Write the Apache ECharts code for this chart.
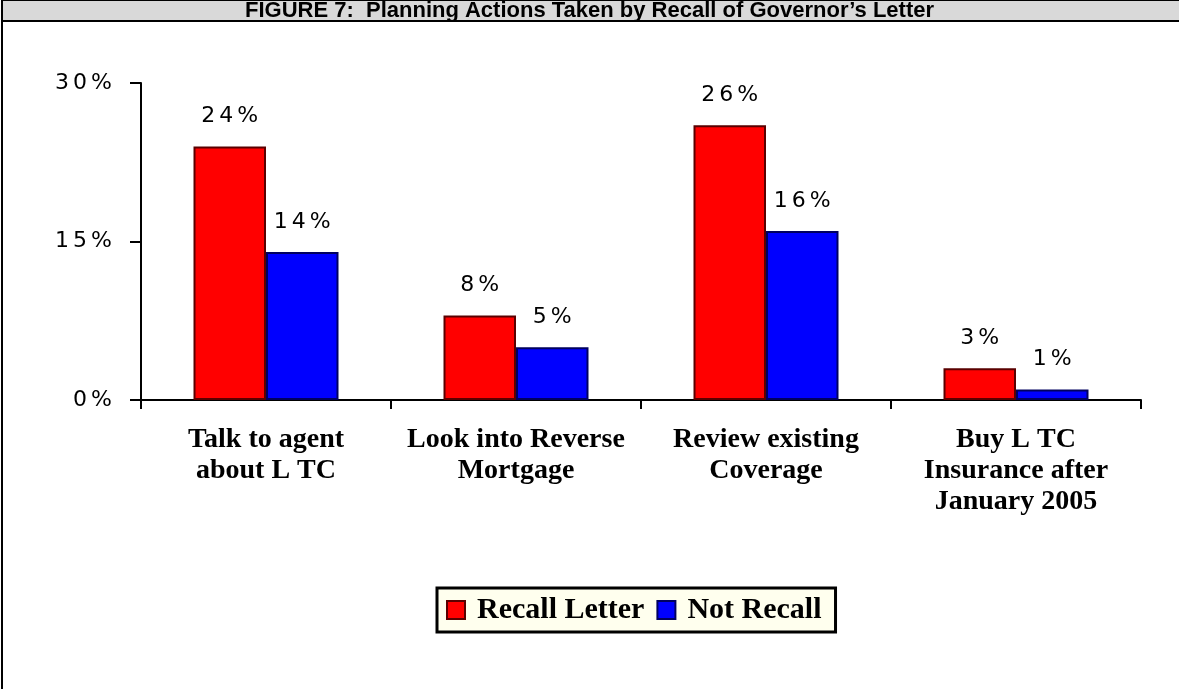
<!DOCTYPE html>
<html>
<head>
<meta charset="utf-8">
<script src="https://cdn.jsdelivr.net/npm/echarts@6/dist/echarts.min.js"></script>
<style>
  html, body { margin: 0; padding: 0; background: #ffffff; }
  #chart { width: 1179px; height: 689px; }
</style>
</head>
<body>
<div id="chart"></div>
<script>
// Planning actions by whether respondents recalled the Governor's letter
const categories = [
  'Talk to agent\nabout L TC',
  'Look into Reverse\nMortgage',
  'Review existing\nCoverage',
  'Buy L TC\nInsurance after\nJanuary 2005'
];
const recallLetter = [24, 8, 26, 3];
const notRecall = [14, 5, 16, 1];
const seriesNames = ['Recall Letter', 'Not Recall'];
const yTicks = [0, 15, 30];

// Percent text drawn with a little air between the glyphs
function spaced(text) {
  return String(text).split('').map(function (c) { return '{s|' + c + '}'; }).join('');
}
const spacedRich = {
  s: {
    fontFamily: 'DejaVu Sans, sans-serif',
    fontSize: 22,
    color: '#000',
    padding: [0, 2, 0, 2]
  }
};

const chart = echarts.init(document.getElementById('chart'));

const valueLabel = {
  show: true,
  position: 'top',
  distance: 19,
  formatter: function (p) { return spaced(p.value + '%'); },
  rich: spacedRich
};

chart.setOption({
  animation: false,
  backgroundColor: '#ffffff',
  title: {
    text: 'FIGURE 7:  Planning Actions Taken by Recall of Governor\u2019s Letter',
    left: 'center',
    top: 0,
    padding: [0, 0, 0, 0],
    textStyle: {
      fontFamily: 'Liberation Sans, Arial, sans-serif',
      fontWeight: 'bold',
      fontSize: 22,
      lineHeight: 22,
      color: '#000'
    }
  },
  graphic: [
    {
      type: 'rect',
      z: -1,
      shape: { x: 2, y: 0, width: 1180, height: 21 },
      style: { fill: '#d9d9d9', stroke: '#000', lineWidth: 2 }
    },
    {
      type: 'line',
      shape: { x1: 2, y1: 21, x2: 2, y2: 689 },
      style: { stroke: '#000', lineWidth: 2 }
    }
  ],
  legend: {
    data: seriesNames,
    left: 437,
    top: 588,
    backgroundColor: '#ffffee',
    borderColor: '#000',
    borderWidth: 3,
    padding: [7, 14, 7, 9],
    itemWidth: 18,
    itemHeight: 18,
    itemGap: 12,
    icon: 'rect',
    textStyle: {
      fontFamily: 'Liberation Serif, Times New Roman, serif',
      fontWeight: 'bold',
      fontSize: 30,
      lineHeight: 30,
      color: '#000',
      padding: [0, 0, 0, 7]
    }
  },
  grid: { left: 141, right: 38, top: 83, bottom: 289, containLabel: false },
  xAxis: {
    type: 'category',
    data: categories,
    axisLine: { show: true, lineStyle: { color: '#000', width: 2 } },
    axisTick: { show: true, length: 9, lineStyle: { color: '#000', width: 2 } },
    axisLabel: {
      interval: 0,
      margin: 24,
      fontFamily: 'Liberation Serif, Times New Roman, serif',
      fontWeight: 'bold',
      fontSize: 28,
      lineHeight: 31,
      color: '#000'
    }
  },
  yAxis: {
    type: 'value',
    min: 0,
    max: 30,
    interval: 15,
    splitLine: { show: false },
    axisLine: { show: true, lineStyle: { color: '#000', width: 2 } },
    axisTick: { show: true, length: 11, lineStyle: { color: '#000', width: 2 } },
    axisLabel: {
      margin: 27,
      formatter: function (v) { return yTicks.indexOf(v) >= 0 ? spaced(v + '%') : ''; },
      rich: spacedRich
    }
  },
  series: [
    {
      name: seriesNames[0],
      type: 'bar',
      data: recallLetter,
      barGap: '0%',
      barCategoryGap: '42%',
      itemStyle: { color: '#ff0000', borderColor: '#5a0000', borderWidth: 2 },
      label: valueLabel
    },
    {
      name: seriesNames[1],
      type: 'bar',
      data: notRecall,
      itemStyle: { color: '#0000ff', borderColor: '#000060', borderWidth: 2 },
      label: valueLabel
    }
  ]
});
</script>
</body>
</html>
